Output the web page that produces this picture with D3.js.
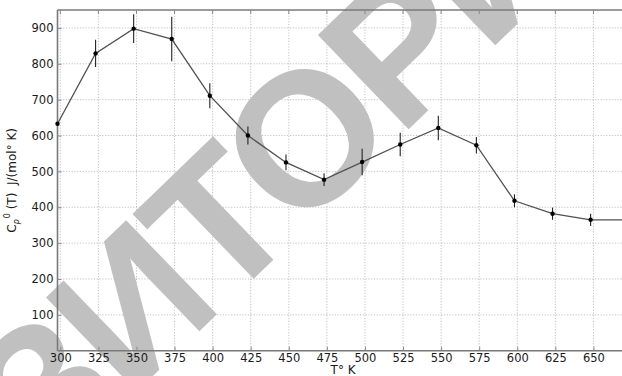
<!DOCTYPE html>
<html>
<head>
<meta charset="utf-8">
<script src="https://cdn.jsdelivr.net/npm/d3@7"></script>
<style>
  html, body { margin: 0; padding: 0; background: #fff; }
  svg { display: block; }
</style>
</head>
<body>
<svg id="chart" width="622" height="376"></svg>
<script>
// ---- data ----
const temperatures = [298.15, 323.15, 348.15, 373.15, 398.15, 423.15, 448.15, 473.15, 498.15, 523.15, 548.15, 573.15, 598.15, 623.15, 648.15, 673.15];
const cpValues     = [633, 829, 898, 869, 711, 600, 525, 477, 526, 575, 621, 573, 418, 382, 365, 365];
const cpErrors     = [0, 38, 40, 62, 35, 25, 22, 18, 37, 33, 34, 23, 18, 17, 17, 0];
const xTickValues  = [300, 325, 350, 375, 400, 425, 450, 475, 500, 525, 550, 575, 600, 625, 650];
const yTickValues  = [100, 200, 300, 400, 500, 600, 700, 800, 900];
const yGridValues  = [0, 100, 200, 300, 400, 500, 600, 700, 800, 900];
const xLabelText   = "T° K";
const watermarkText = "РЕПОЗИТОРИЙ";

(function () {
const svg = d3.select("#chart");
const W = 622, H = 376;
const pL = 57.5, pR = 628.7, pT = 10, pB = 350.7;

svg.append("rect").attr("width", W).attr("height", H).attr("fill", "#fff");

const x = d3.scaleLinear().domain([298.15, 673.15]).range([pL, pR]);
const y = d3.scaleLinear().domain([0, 950]).range([pB, pT]);

// grid
const grid = svg.append("g");
grid.selectAll("line.gx").data(xTickValues).join("line")
  .attr("x1", d => x(d)).attr("x2", d => x(d))
  .attr("y1", pT).attr("y2", pB)
  .attr("stroke", "#a8a8a8").attr("stroke-width", 0.7).attr("stroke-dasharray", "1.2,1.6");
grid.selectAll("line.gy").data(yGridValues).join("line")
  .attr("x1", pL).attr("x2", pR)
  .attr("y1", d => y(d)).attr("y2", d => y(d))
  .attr("stroke", "#a8a8a8").attr("stroke-width", 0.7).attr("stroke-dasharray", "1.2,1.6");

// watermark (behind data, above grid)
svg.append("text")
  .attr("transform", "translate(128,305) rotate(-44)")
  .attr("text-anchor", "middle")
  .attr("dy", "0.36em")
  .attr("font-family", "Liberation Sans, Arial, sans-serif")
  .attr("font-weight", "bold")
  .attr("font-size", 190)
  .attr("letter-spacing", -6)
  .attr("fill", "#c0c0c0")
  .text(watermarkText);

// frame
const frame = svg.append("g").attr("stroke", "#7a7a7a").attr("stroke-width", 1.6).attr("fill", "none");
frame.append("line").attr("x1", pL).attr("x2", pR).attr("y1", pT).attr("y2", pT);
frame.append("line").attr("x1", pL).attr("x2", pR).attr("y1", pB).attr("y2", pB);
frame.append("line").attr("x1", pL).attr("x2", pL).attr("y1", pT).attr("y2", pB);

// axes (ticks inward)
const xAxis = d3.axisBottom(x).tickValues(xTickValues).tickFormat(d3.format("d")).tickSizeInner(-4).tickSizeOuter(0).tickPadding(3);
const gx = svg.append("g").attr("transform", `translate(0,${pB})`).call(xAxis);
gx.select(".domain").remove();
gx.selectAll(".tick line").attr("stroke", "#888");
gx.selectAll(".tick text").attr("font-family", "DejaVu Sans, sans-serif").attr("font-size", 11.5).attr("fill", "#1a1a1a");

const yAxis = d3.axisLeft(y).tickValues(yTickValues).tickFormat(d3.format("d")).tickSizeInner(-4).tickSizeOuter(0).tickPadding(4);
const gy = svg.append("g").attr("transform", `translate(${pL},0)`).call(yAxis);
gy.select(".domain").remove();
gy.selectAll(".tick line").attr("stroke", "#888");
gy.selectAll(".tick text").attr("font-family", "DejaVu Sans, sans-serif").attr("font-size", 11.5).attr("fill", "#1a1a1a");

// top ticks
svg.append("g").selectAll("line").data(xTickValues).join("line")
  .attr("x1", d => x(d)).attr("x2", d => x(d)).attr("y1", pT).attr("y2", pT + 4)
  .attr("stroke", "#888");

// data
const pts = temperatures.map((t, i) => ({t, v: cpValues[i], e: cpErrors[i]}));
const plot = svg.append("g");
plot.append("path")
  .datum(pts)
  .attr("fill", "none").attr("stroke", "#505050").attr("stroke-width", 1.3)
  .attr("d", d3.line().x(d => x(d.t)).y(d => y(d.v)));
plot.selectAll("line.err").data(pts.filter(d => d.e > 0)).join("line")
  .attr("x1", d => x(d.t)).attr("x2", d => x(d.t))
  .attr("y1", d => y(d.v - d.e)).attr("y2", d => y(d.v + d.e))
  .attr("stroke", "#222").attr("stroke-width", 1.1);
plot.selectAll("circle").data(pts).join("circle")
  .attr("cx", d => x(d.t)).attr("cy", d => y(d.v)).attr("r", 2.2)
  .attr("fill", "#000");

// x label
svg.append("text")
  .attr("x", (pL + pR) / 2).attr("y", 374)
  .attr("text-anchor", "middle")
  .attr("font-family", "DejaVu Sans, sans-serif").attr("font-size", 12).attr("fill", "#1a1a1a")
  .text(xLabelText);

// y label
const yl = svg.append("text")
  .attr("transform", `translate(16,${(pT + pB) / 2}) rotate(-90)`)
  .attr("text-anchor", "middle")
  .attr("font-family", "DejaVu Sans, sans-serif").attr("font-size", 12).attr("fill", "#1a1a1a");
yl.append("tspan").text("C");
yl.append("tspan").attr("font-style", "italic").attr("font-size", 8).attr("dy", 3).text("p");
yl.append("tspan").attr("font-size", 8).attr("dy", -9).attr("dx", 1).text("0");
yl.append("tspan").attr("dy", 6).text("\u00a0(T)\u00a0\u00a0J/(mol° K)");
})();
</script>
</body>
</html>
